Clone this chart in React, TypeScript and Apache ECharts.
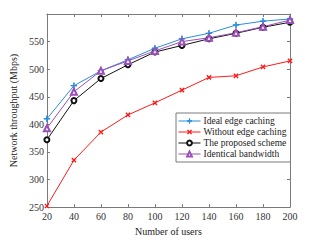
import React, { useEffect, useRef } from "react";
import * as echarts from "echarts";

const users = [20, 40, 60, 80, 100, 120, 140, 160, 180, 200];
const idealCaching = [410, 470, 497, 517, 538, 555, 565, 580, 587, 591];
const withoutCaching = [252, 335, 386, 417, 439, 462, 485, 488, 504, 515];
const proposedScheme = [372, 443, 483, 508, 531, 543, 555, 565, 576, 585];
const identicalBandwidth = [393, 459, 497, 515, 533, 550, 557, 566, 577, 589];
const seriesNames = [
  "Ideal edge caching",
  "Without edge caching",
  "The proposed scheme",
  "Identical bandwidth",
];

const FONT = "Liberation Serif";
const PLUS = "path://M-0.07,-1H0.07V-0.07H1V0.07H0.07V1H-0.07V0.07H-1V-0.07H-0.07Z";

export default function App() {
  const ref = useRef<HTMLDivElement>(null);
  useEffect(() => {
    if (!ref.current) return;
    const chart = echarts.init(ref.current, undefined, { renderer: "svg" });
    const axisLine = { show: true, lineStyle: { color: "#7a7a7a", width: 1 } };
    const tick = { show: true, inside: true, length: 3, lineStyle: { color: "#7a7a7a" } };
    const mk = (name: string, data: number[], color: string, symbol: string, size: number, rotate = 0) => ({
      name,
      type: "line",
      data: users.map((u, i) => [u, data[i]]),
      symbol,
      symbolSize: size,
      symbolRotate: rotate,
      lineStyle: { color, width: 1 },
      itemStyle: { color, borderColor: color, borderWidth: 1 },
      showAllSymbol: true,
    });
    chart.setOption({
      animation: false,
      grid: { left: 41, right: 31, top: 14, bottom: 31 },
      legend: {
        orient: "vertical",
        left: 176,
        top: 113,
        padding: [3, 4, 3, 2],
        itemWidth: 22,
        itemHeight: 6,
        itemGap: 1,
        backgroundColor: "#fff",
        borderColor: "#7a7a7a",
        borderWidth: 1,
        borderRadius: 0,
        lineStyle: { width: 1 },
        itemStyle: { borderWidth: 1 },
        textStyle: { fontFamily: FONT, fontSize: 9.5, color: "#222", lineHeight: 10, padding: [0, 0, 0, -2] },
        data: seriesNames,
      },
      xAxis: [
        {
          type: "value",
          min: 20,
          max: 200,
          interval: 20,
          name: "Number of users",
          nameLocation: "middle",
          nameGap: 18,
          nameTextStyle: { fontFamily: FONT, fontSize: 10, color: "#222" },
          axisLine,
          axisTick: tick,
          axisLabel: { fontFamily: FONT, fontSize: 10, color: "#333", margin: 4 },
          splitLine: { show: false },
        },
        {
          type: "value",
          position: "top",
          min: 20,
          max: 200,
          interval: 20,
          axisLine,
          axisTick: tick,
          axisLabel: { show: false },
          splitLine: { show: false },
        },
      ],
      yAxis: [
        {
          type: "value",
          min: 250,
          max: 600,
          interval: 50,
          name: "Network throughput (Mbps)",
          nameLocation: "middle",
          nameGap: 17,
          nameTextStyle: { fontFamily: FONT, fontSize: 10, color: "#222" },
          axisLine,
          axisTick: tick,
          axisLabel: { fontFamily: FONT, fontSize: 10, color: "#333", margin: 3, showMaxLabel: false },
          splitLine: { show: false },
        },
        {
          type: "value",
          position: "right",
          min: 250,
          max: 600,
          interval: 50,
          axisLine,
          axisTick: tick,
          axisLabel: { show: false },
          splitLine: { show: false },
        },
      ],
      series: [
        mk(seriesNames[0], idealCaching, "#2a8fd8", PLUS, 6),
        mk(seriesNames[1], withoutCaching, "#ff1a1a", PLUS, 5, 45),
        mk(seriesNames[2], proposedScheme, "#111111", "emptyCircle", 5),
        mk(seriesNames[3], identicalBandwidth, "#9b4fb8", "emptyTriangle", 6),
      ],
    });
    return () => chart.dispose();
  }, []);
  return (
    <div
      ref={ref}
      style={{ position: "fixed", left: 0, top: 0, width: 321, height: 241, background: "#fff" }}
    />
  );
}
